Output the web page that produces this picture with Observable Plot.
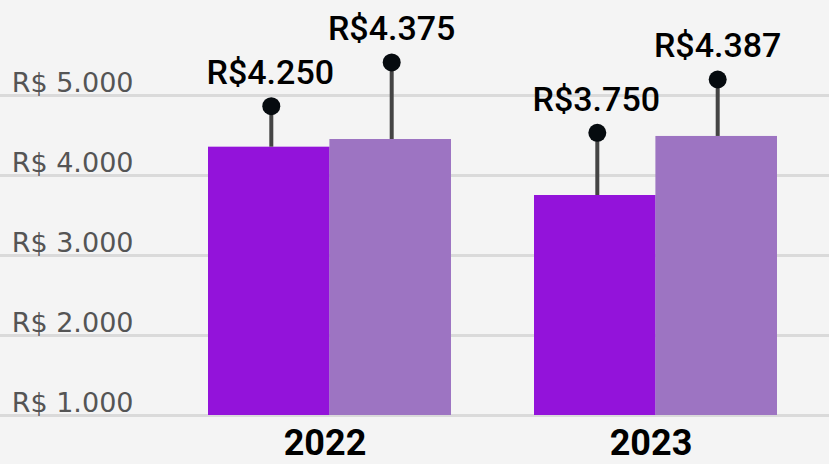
<!DOCTYPE html>
<html>
<head>
<meta charset="utf-8">
<script src="https://cdn.jsdelivr.net/npm/d3@7"></script>
<script src="https://cdn.jsdelivr.net/npm/@observablehq/plot@0.6"></script>
<style>
  html, body { margin: 0; padding: 0; background: #f4f4f4; }
  #chart svg { display: block; }
</style>
</head>
<body>
<div id="chart"></div>
<script>
// ---- data ----
const years = ["2022", "2023"];
const barA = [4354, 3750];          // dark purple bars
const barB = [4450, 4488];          // light purple bars
const dotA = [4866, 4534];          // lollipop tops, dark series
const dotB = [5413, 5200];          // lollipop tops, light series
const labelA = ["R$4.250", "R$3.750"];
const labelB = ["R$4.375", "R$4.387"];
const baseline = 1000;
const yTicks = [1000, 2000, 3000, 4000, 5000];
const yTickLabels = ["R$ 1.000", "R$ 2.000", "R$ 3.000", "R$ 4.000", "R$ 5.000"];

const rowsA = years.map((y, i) => ({year: y, v: barA[i], top: dotA[i], label: labelA[i]}));
const rowsB = years.map((y, i) => ({year: y, v: barB[i], top: dotB[i], label: labelB[i]}));
const tickLabel = new Map(yTicks.map((t, i) => [t, yTickLabels[i]]));

const W = 829, H = 464;
const xLeft = 159, xRight = 826;
const pIn = 0.256, pOut = 0.15;
const step = (xRight - xLeft) / (years.length - pIn + 2 * pOut);
const bw = step * (1 - pIn);
const half = bw / 2, q = bw / 4;

const darkC = "#9313da", lightC = "#9d74c2";

const chart = Plot.plot({
  width: W,
  height: H,
  marginLeft: 0,
  marginRight: 0,
  marginTop: 15,
  marginBottom: 49,
  style: {background: "transparent", fontFamily: "Roboto, sans-serif", overflow: "visible"},
  x: {type: "band", domain: years, range: [xLeft, xRight], paddingInner: pIn, paddingOuter: pOut, axis: null, label: null},
  y: {domain: [1000, 6000], axis: null, label: null},
  marks: [
    Plot.gridY(yTicks, {stroke: "#dadada", strokeWidth: 3, strokeOpacity: 1}),
    Plot.axisY(yTicks, {
      tickSize: 0, tickPadding: 26 - xLeft, anchor: "left", label: null,
      tickFormat: d => tickLabel.get(d),
      fontSize: 27, fill: "#555", dy: -12.5,
      fontFamily: "'DejaVu Sans', sans-serif"
    }),
    Plot.barY(rowsA, {x: "year", y1: () => baseline, y2: "v", fill: darkC, insetRight: half}),
    Plot.barY(rowsB, {x: "year", y1: () => baseline, y2: "v", fill: lightC, insetLeft: half}),
    Plot.ruleX(rowsA, {x: "year", y1: "v", y2: "top", dx: -q + 2, stroke: "#444", strokeWidth: 4}),
    Plot.ruleX(rowsB, {x: "year", y1: "v", y2: "top", dx: q + 1, stroke: "#444", strokeWidth: 4}),
    Plot.dot(rowsA, {x: "year", y: "top", dx: -q + 2, r: 9, fill: "#060b0f", stroke: "none"}),
    Plot.dot(rowsB, {x: "year", y: "top", dx: q + 1, r: 9, fill: "#060b0f", stroke: "none"}),
    Plot.text(rowsA, {x: "year", y: "top", text: "label", dx: -q + 1, dy: -33, fontSize: 34, fontWeight: 500, fill: "#000"}),
    Plot.text(rowsB, {x: "year", y: "top", text: "label", dx: q + 1, dy: -33, fontSize: 34, fontWeight: 500, fill: "#000"}),
    Plot.axisX({tickSize: 0, tickPadding: 14, fontSize: 36, fontWeight: 700, fill: "#000", dx: -5, label: null})
  ]
});
document.getElementById("chart").appendChild(chart);
</script>
</body>
</html>
